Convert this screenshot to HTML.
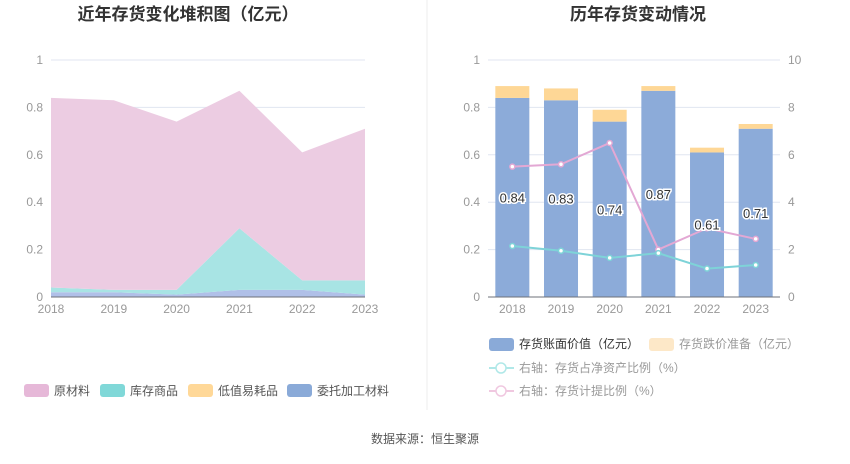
<!DOCTYPE html>
<html><head><meta charset="utf-8"><style>
body{margin:0;background:#fff;font-family:"Liberation Sans","Noto Sans CJK SC",sans-serif}
svg text{font-family:"Liberation Sans","Noto Sans CJK SC",sans-serif}
</style></head><body>
<svg id="s" width="850" height="459" xmlns="http://www.w3.org/2000/svg">
<text x="188" y="20" text-anchor="middle" font-size="17" font-weight="bold" fill="#333">近年存货变化堆积图（亿元）</text>
<text x="638" y="20" text-anchor="middle" font-size="17" font-weight="bold" fill="#333">历年存货变动情况</text>
<line x1="427" y1="0" x2="427" y2="410" stroke="#eee"/>
<g id="L"></g><g id="R"></g>
<g font-size="12" fill="#555">
<rect x="24" y="384" width="25" height="13" rx="3" fill="#e6b8d8"/><text x="54" y="395">原材料</text>
<rect x="100" y="384" width="25" height="13" rx="3" fill="#80d8d8"/><text x="130" y="395">库存商品</text>
<rect x="188" y="384" width="25" height="13" rx="3" fill="#ffd898"/><text x="218" y="395">低值易耗品</text>
<rect x="287" y="384" width="25" height="13" rx="3" fill="#8aaad8"/><text x="317" y="395">委托加工材料</text>
</g>
<g font-size="12">
<rect x="489" y="338" width="25" height="13" rx="3" fill="#8aaad8"/><text x="519" y="348" fill="#333">存货账面价值（亿元）</text>
<rect x="649" y="338" width="25" height="13" rx="3" fill="#fde8c8"/><text x="679" y="348" fill="#999">存货跌价准备（亿元）</text>
<line x1="489" y1="368" x2="514" y2="368" stroke="#b0e8e8" stroke-width="2"/><circle cx="501" cy="368" r="5" fill="#fff" stroke="#b0e8e8" stroke-width="1.5"/><text x="519" y="372" fill="#999">右轴：存货占净资产比例（%）</text>
<line x1="489" y1="391" x2="514" y2="391" stroke="#f0c8e0" stroke-width="2"/><circle cx="501" cy="391" r="5" fill="#fff" stroke="#f0c8e0" stroke-width="1.5"/><text x="519" y="395" fill="#999">右轴：存货计提比例（%）</text>
</g>
<text x="425" y="443" text-anchor="middle" font-size="12" fill="#555">数据来源：恒生聚源</text>
</svg>
<script>
const years=["2018","2019","2020","2021","2022","2023"];
const entrusted=[0.02,0.02,0.01,0.03,0.03,0.01];
const goods=[0.02,0.01,0.02,0.26,0.04,0.06];
const lowValue=[0,0,0,0,0,0];
const raw=[0.80,0.80,0.71,0.58,0.54,0.64];
const bookValue=[0.84,0.83,0.74,0.87,0.61,0.71];
const reserve=[0.05,0.05,0.05,0.02,0.02,0.02];
const netAssetRatio=[2.15,1.95,1.65,1.85,1.2,1.35];
const provisionRatio=[5.5,5.6,6.5,2.0,2.9,2.45];
const yTicks=[0,0.2,0.4,0.6,0.8,1];
const yTicksR=[0,2,4,6,8,10];
const NS="http://www.w3.org/2000/svg";
function mk(p,t,a){const e=document.createElementNS(NS,t);for(const k in a)e.setAttribute(k,a[k]);p.appendChild(e);return e;}
const y=v=>297-v*237, yR=v=>297-v*23.7;
// left
const L=document.getElementById('L');
const lx=i=>51+i*62.8;
yTicks.forEach(t=>{
 const g=mk(L,'line',{x1:51,x2:365,y1:y(t),y2:y(t),stroke:'#e0e6f1'});
 
 
 const tx=mk(L,'text',{x:43,y:y(t)+4,'text-anchor':'end','font-size':12,fill:'#999'});tx.textContent=t;
 
 
});
const series=[[entrusted,'#b0c0e8','entrusted-area'],[goods,'#a8e4e4','goods-area'],[lowValue,'#ffe0a8','low-value-area'],[raw,'#eccce2','raw-material-area']];
let base=years.map(()=>0);
series.forEach(([d,c,n])=>{
 const top=base.map((b,i)=>b+d[i]);
 let pts=top.map((v,i)=>lx(i)+','+y(v)).join(' ')+' '+base.map((v,i)=>lx(i)+','+y(v)).reverse().join(' ');
 const p=mk(L,'polygon',{points:pts,fill:c});
 
 
 base=top;
});
mk(L,'line',{x1:51,x2:365,y1:297,y2:297,stroke:'#6e7079'});
years.forEach((yr,i)=>{const t=mk(L,'text',{x:lx(i),y:313,'text-anchor':'middle','font-size':12,fill:'#999'});t.textContent=yr;
 
 });
// right
const R=document.getElementById('R');
const bw=48.67,cx=i=>488+bw*(i+0.5);
yTicks.forEach((t,k)=>{
 const g=mk(R,'line',{x1:488,x2:780,y1:y(t),y2:y(t),stroke:'#e0e6f1'});
 
 
 const tx=mk(R,'text',{x:480,y:y(t)+4,'text-anchor':'end','font-size':12,fill:'#999'});tx.textContent=t;
 
 
 const t2=mk(R,'text',{x:788,y:yR(yTicksR[k])+4,'font-size':12,fill:'#999'});t2.textContent=yTicksR[k];
 
 
});
years.forEach((yr,i)=>{
 const b=mk(R,'rect',{x:cx(i)-17,y:y(bookValue[i]),width:34,height:bookValue[i]*237,fill:'#8cabd9'});
 
 
 const r=mk(R,'rect',{x:cx(i)-17,y:y(bookValue[i]+reserve[i]),width:34,height:reserve[i]*237,fill:'#fed796'});
 
 
 const t=mk(R,'text',{x:cx(i),y:313,'text-anchor':'middle','font-size':12,fill:'#999'});t.textContent=yr;
 
 
});
mk(R,'line',{x1:488,x2:780,y1:297,y2:297,stroke:'#6e7079'});
[[provisionRatio,'#e3a8d4','provision-ratio-line'],[netAssetRatio,'#7ed3d8','net-asset-ratio-line']].forEach(([d,c,n])=>{
 const pl=mk(R,'polyline',{points:d.map((v,i)=>cx(i)+','+yR(v)).join(' '),fill:'none',stroke:c,'stroke-width':2});
 
 
 d.forEach((v,i)=>{const c2=mk(R,'circle',{cx:cx(i),cy:yR(v),r:2.5,fill:'#fff',stroke:c,'stroke-width':1.5});
  
  });
});
years.forEach((yr,i)=>{
 const t=mk(R,'text',{x:cx(i),y:y(bookValue[i]/2)+5,'text-anchor':'middle','font-size':13,fill:'#333',stroke:'#fff','stroke-width':3,'paint-order':'stroke'});
 t.textContent=bookValue[i].toFixed(2);
 
 
});
</script>
</body></html>
